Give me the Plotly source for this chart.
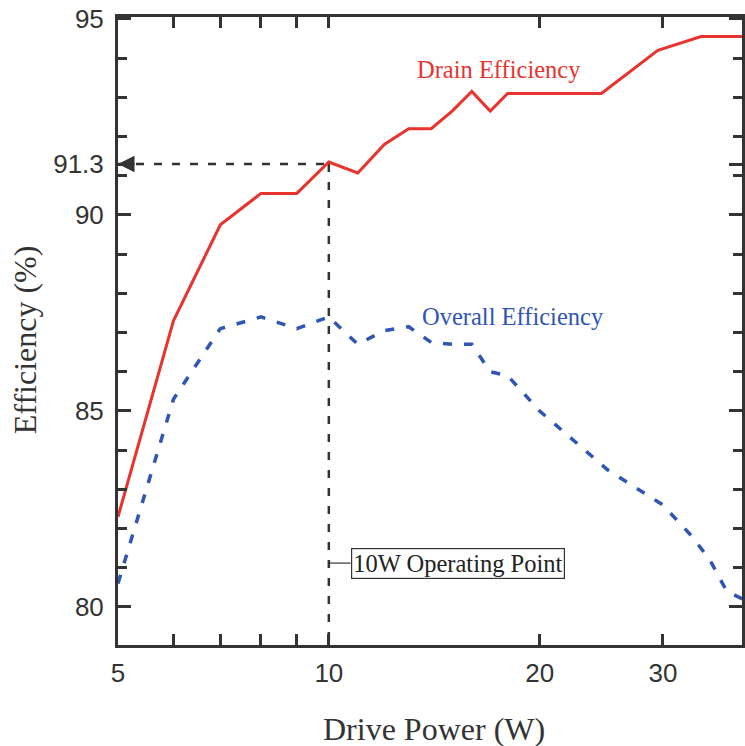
import math
import plotly.graph_objects as go

# ---- data ----
drain_power = [5, 6, 7, 8, 9, 10, 11, 12, 13, 14, 15, 16, 17, 18, 24.5, 29.5, 34, 39]
drain_eff = [82.3, 87.3, 89.75, 90.55, 90.55, 91.35, 91.07, 91.8, 92.2, 92.2, 92.65, 93.15, 92.65,
             93.1, 93.1, 94.2, 94.55, 94.55]

overall_power = [5, 6, 7, 8, 9, 10, 11, 12, 13, 14, 15, 16, 17, 18, 20, 25, 30, 33, 35, 37, 39]
overall_eff = [80.6, 85.3, 87.1, 87.4, 87.1, 87.4, 86.7, 87.05, 87.15, 86.75, 86.7, 86.7, 86.0,
               85.9, 85.0, 83.5, 82.6, 81.8, 81.2, 80.4, 80.2]

op_power = 10
op_eff = 91.3

x_tickvals = [5, 6, 7, 8, 9, 10, 20, 30]
x_ticktext = ["5", "", "", "", "", "10", "20", "30"]
y_tickvals = [80, 85, 90, 91.3, 95]
y_ticktext = ["80", "85", "90", "91.3", "95"]
y_minor = [81, 82, 83, 84, 86, 87, 88, 89, 91, 92, 93, 94]

x_range = [5, 38.9]
y_range = [79.03, 95.05]

RED = "#e8332e"
BLUE = "#2f55b5"
DARK = "#333333"

fig = go.Figure()

# operating point guide lines
fig.add_trace(go.Scatter(x=[x_range[0], op_power], y=[op_eff, op_eff], mode="lines",
                         line=dict(color=DARK, width=2.5, dash="8px,10px"), hoverinfo="skip",
                         showlegend=False))
fig.add_trace(go.Scatter(x=[op_power, op_power], y=[op_eff, y_range[0]], mode="lines",
                         line=dict(color=DARK, width=2.5, dash="8px,10px"), hoverinfo="skip",
                         showlegend=False))
# connector to label box
fig.add_trace(go.Scatter(x=[op_power, 10.74], y=[81.12, 81.12], mode="lines",
                         line=dict(color=DARK, width=1.2), hoverinfo="skip", showlegend=False))

fig.add_trace(go.Scatter(x=drain_power, y=drain_eff, mode="lines", name="Drain Efficiency",
                         line=dict(color=RED, width=3), showlegend=False))
fig.add_trace(go.Scatter(x=overall_power, y=overall_eff, mode="lines", name="Overall Efficiency",
                         line=dict(color=BLUE, width=3.5, dash="9px,12px"), showlegend=False))

serif = "Liberation Serif, Times New Roman, serif"
sans = "Liberation Sans, Arial, sans-serif"

annotations = [
    dict(x=math.log10(17.5), y=93.7, text="Drain Efficiency", showarrow=False,
         font=dict(family=serif, size=24.5, color=RED), xref="x", yref="y"),
    dict(x=math.log10(18.35), y=87.42, text="Overall Efficiency", showarrow=False,
         font=dict(family=serif, size=24.5, color=BLUE), xref="x", yref="y"),
    dict(x=math.log10(10.74), y=81.12, text="10W Operating Point", showarrow=False,
         xanchor="left", yanchor="middle", font=dict(family=serif, size=24.5, color="#222"),
         bordercolor=DARK, borderwidth=1.2, borderpad=1, bgcolor="white", xref="x", yref="y"),
    # arrow head at the y axis
    dict(x=math.log10(x_range[0]), y=op_eff, ax=18, ay=0, text="", showarrow=True,
         arrowhead=2, arrowsize=1.5, arrowwidth=2.2, arrowcolor=DARK, standoff=0,
         xref="x", yref="y"),
    dict(x=-0.182, y=0.486, xref="paper", yref="paper", text="Efficiency (%)", textangle=-90,
         showarrow=False, font=dict(family=serif, size=32, color="#333")),
    dict(x=0.507, y=-0.134, xref="paper", yref="paper", text="Drive Power (W)",
         showarrow=False, yanchor="middle", font=dict(family=serif, size=32, color="#333")),
]

fig.update_layout(
    width=745, height=746,
    margin=dict(l=118, r=0, t=17, b=101),
    paper_bgcolor="white", plot_bgcolor="white",
    showlegend=False,
    annotations=annotations,
    xaxis=dict(type="log", range=[math.log10(x_range[0]), math.log10(x_range[1])],
               tickmode="array", tickvals=x_tickvals, ticktext=x_ticktext,
               ticks="inside", ticklen=11, tickwidth=3, tickcolor=DARK,
               showline=True, linewidth=3, linecolor=DARK, mirror="ticks",
               showgrid=False, zeroline=False, ticklabelstandoff=3,
               tickfont=dict(family=sans, size=26, color="#333")),
    yaxis=dict(range=y_range, tickmode="array", tickvals=y_tickvals, ticktext=y_ticktext,
               ticks="inside", ticklen=13, tickwidth=3, tickcolor=DARK,
               minor=dict(tickmode="array", tickvals=y_minor, ticks="inside", ticklen=9,
                          tickwidth=3, tickcolor=DARK, showgrid=False),
               showline=True, linewidth=3, linecolor=DARK, mirror="ticks",
               showgrid=False, zeroline=False, ticklabelstandoff=6,
               tickfont=dict(family=sans, size=26, color="#333")),
)

fig.write_html("out.html")
